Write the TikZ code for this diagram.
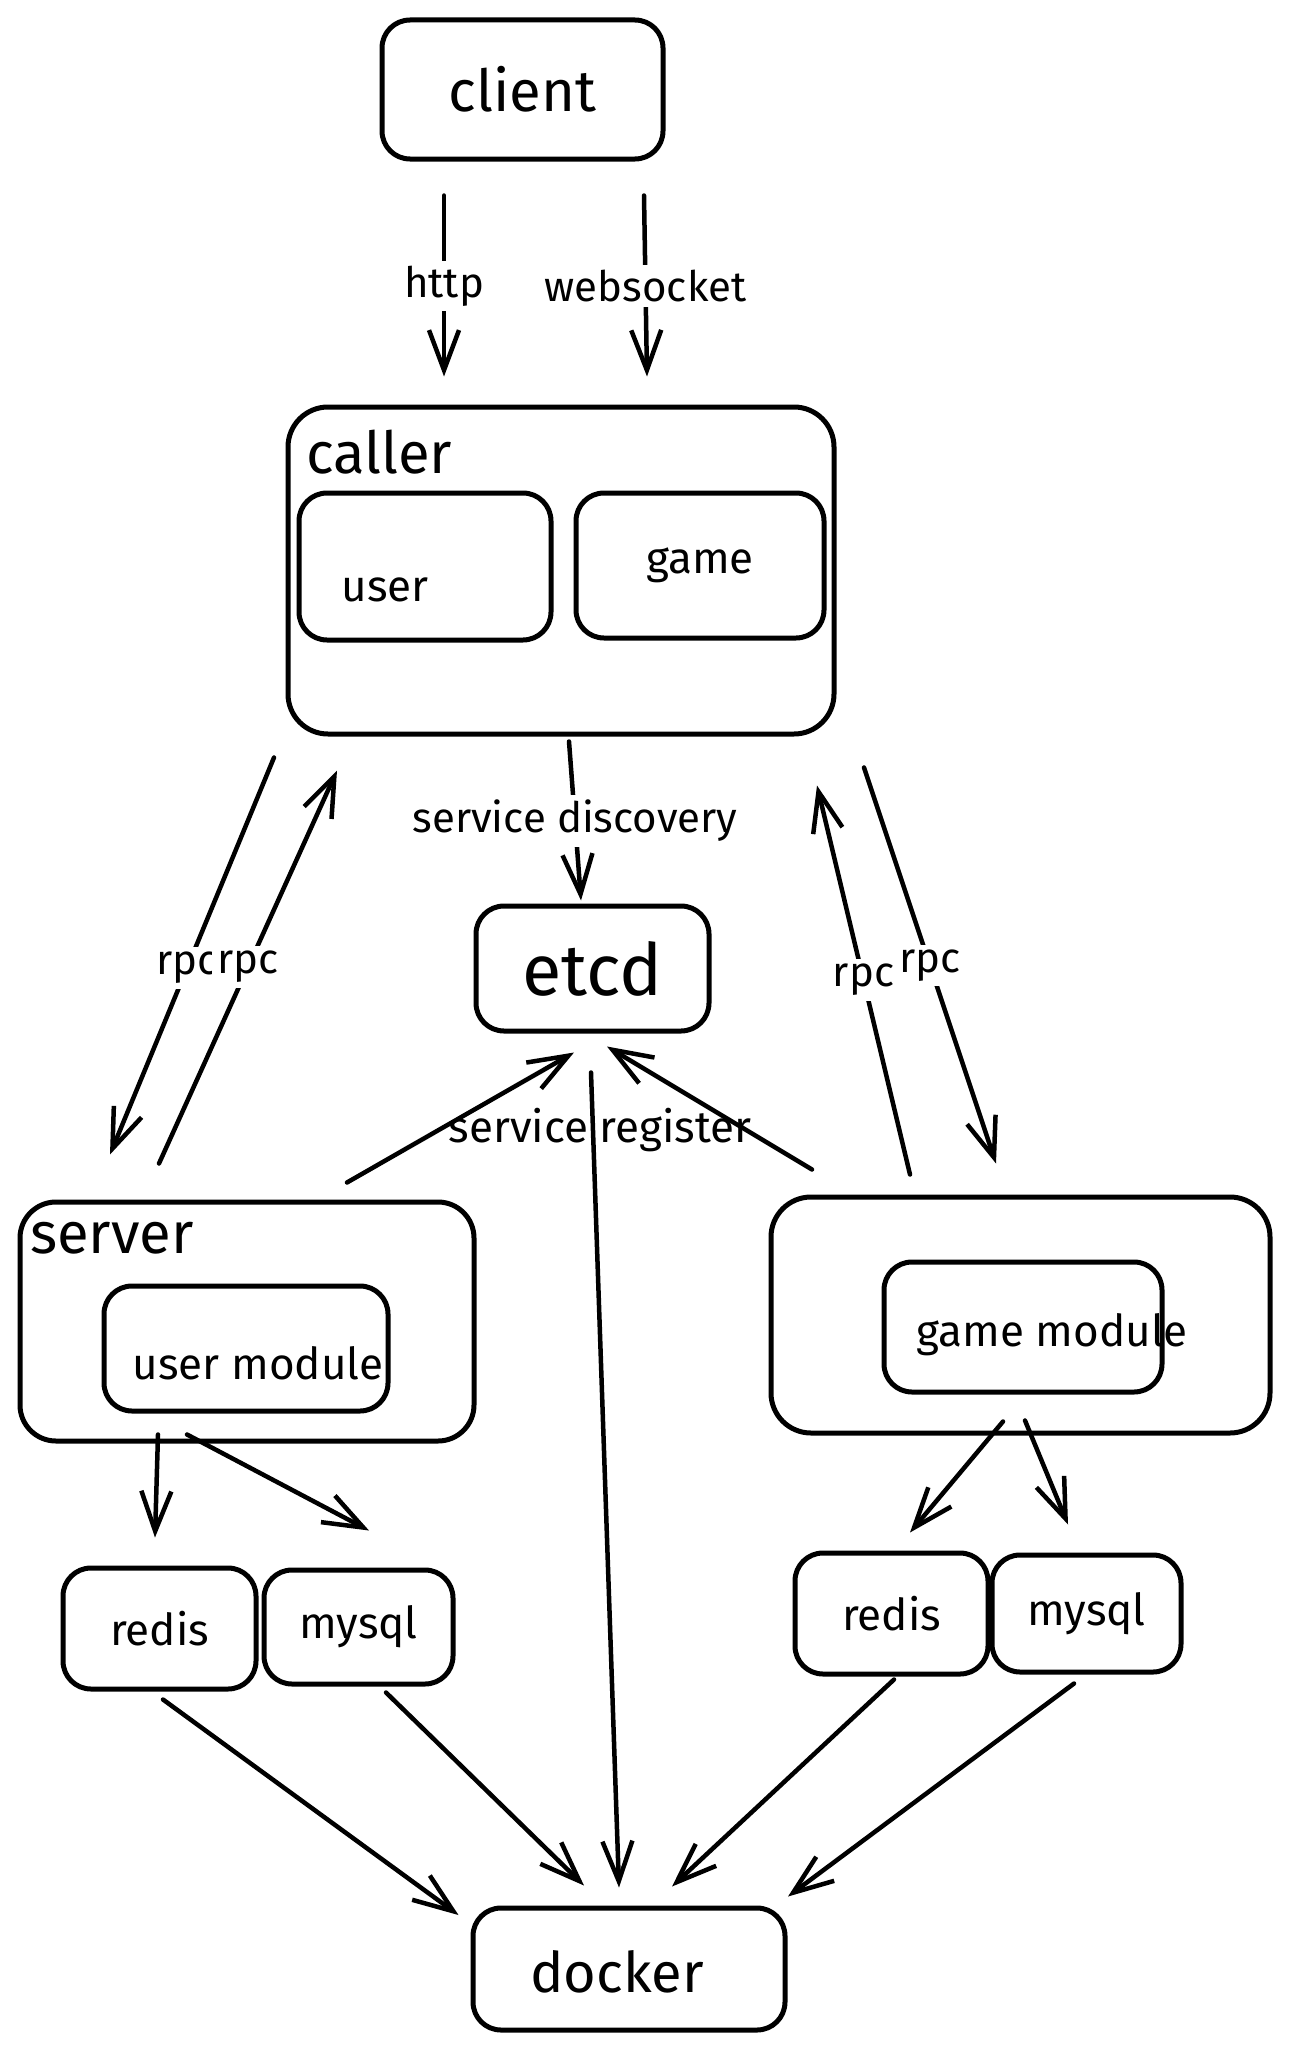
\documentclass[tikz,border=0pt]{standalone}
\usepackage{fontspec}
\setmainfont{Fira Sans}
\usetikzlibrary{arrows.meta,calc}

\begin{document}
\begin{tikzpicture}[x=1pt,y=-1pt,>={Straight Barb[length=40pt,width=30pt]},
  hop/.style={draw,line width=5pt,rounded corners=28pt,inner sep=0pt,font=\fontsize{44}{50}\selectfont},
  big/.style={hop,font=\fontsize{58}{64}\selectfont},
  arr/.style={->,line width=4.5pt,line cap=round,line join=round},
  lbl/.style={fill=white,inner sep=5pt,font=\fontsize{42}{48}\selectfont},
  txt/.style={inner sep=0pt,font=\fontsize{44}{50}\selectfont}]
\useasboundingbox (0,0) rectangle (1291,2047);
% các hộp phía trên
\node[big,minimum width=281pt,minimum height=139pt] (client) at (522.5,89.5) {client};
\node[hop,rounded corners=40pt,minimum width=546pt,minimum height=327pt] (caller) at (561,570.5) {};
\node[anchor=west,inner sep=0pt,font=\fontsize{58}{64}\selectfont] (callerlbl) at (306,452) {caller};
\node[hop,minimum width=252pt,minimum height=147pt] (userc) at (425,566.5) {};
\node[txt] (userlbl) at (385,590) {user};
\node[hop,minimum width=248pt,minimum height=145pt] (gamec) at (700,565.5) {game};
\node[hop,font=\fontsize{72}{78}\selectfont,minimum width=233pt,minimum height=125pt] (etcd) at (592.5,968.5) {etcd};
% server bên trái, game bên phải
\node[hop,rounded corners=36pt,minimum width=454pt,minimum height=239pt] (server) at (247,1321.5) {};
\node[anchor=west,inner sep=0pt,font=\fontsize{58}{64}\selectfont] (serverlbl) at (30,1238) {server};
\node[hop,minimum width=284pt,minimum height=125pt] (usermod) at (246,1348.5) {};
\node[txt] (usermodlbl) at (258,1363) {user module};
\node[hop,rounded corners=40pt,minimum width=499pt,minimum height=236pt] (gamesrv) at (1020.5,1315) {};
\node[hop,minimum width=278pt,minimum height=130pt] (gamemod) at (1023,1327) {};
\node[txt] (gamemodlbl) at (1052,1335) {game module};
% csdl
\node[hop,minimum width=193pt,minimum height=121pt] (redisl) at (159.5,1628.5) {redis};
\node[hop,minimum width=189pt,minimum height=114pt] (mysqll) at (358.5,1627) {mysql};
\node[hop,minimum width=193pt,minimum height=121pt] (redisr) at (891.5,1613.5) {redis};
\node[hop,minimum width=189pt,minimum height=117pt] (mysqlr) at (1086.5,1613.5) {mysql};
\node[hop,minimum width=312pt,minimum height=122pt] (docker) at (629,1969) {};
\node[inner sep=0pt,font=\fontsize{56}{62}\selectfont] (dockerlbl) at (617,1972) {docker};
% mũi tên
\draw[arr] ($(client.south)+(-78.5,34)$) -- node[lbl]{http} ($(caller.north)+(-117,-28)$);
\draw[arr] ($(client.south)+(121.5,34)$) -- node[lbl]{websocket} ($(caller.north)+(86,-28)$);
\draw[arr] ($(caller.south)+(8,5)$) -- node[lbl]{service discovery} ($(etcd.north)+(-11.5,-3)$);
\draw[arr] ($(caller.south)+(-287,21)$) -- node[lbl,pos=.53]{rpc} ($(server.north)+(-137,-45)$);
\draw[arr] ($(server.north)+(-88,-36)$) -- node[lbl]{rpc} ($(caller.south)+(-224,34)$);
\draw[arr] ($(gamesrv.north)+(-110.5,-20)$) -- node[lbl]{rpc} ($(caller.south)+(256,49)$);
\draw[arr] ($(caller.south)+(303,31)$) -- node[lbl]{rpc} ($(gamesrv.north)+(-24.5,-31)$);
\draw[arr] ($(server.north)+(100,-17)$) -- ($(etcd.south)+(-18.5,19)$);
\draw[arr] ($(gamesrv.north)+(-208.5,-25)$) -- ($(etcd.south)+(14.5,13)$);
\node[txt] (reglbl) at (600,1130) {service register};
\draw[arr] ($(etcd.south)+(-1.5,39)$) -- ($(docker.north)+(-10,-18)$);
\draw[arr] ($(server.south)+(-89,-9)$) -- ($(redisl.north)+(-4.5,-28)$);
\draw[arr] ($(server.south)+(-60,-9)$) -- ($(mysqll.north)+(10.5,-37)$);
\draw[arr] ($(gamesrv.south)+(-17.5,-14)$) -- ($(redisr.north)+(18.5,-18)$);
\draw[arr] ($(gamesrv.south)+(4.5,-15)$) -- ($(mysqlr.north)+(-18.5,-28)$);
\draw[arr] ($(redisl.south)+(3.5,8)$) -- ($(docker.west)+(-12,-54)$);
\draw[arr] ($(mysqll.south)+(27.5,6)$) -- ($(docker.north)+(-45,-20)$);
\draw[arr] ($(redisr.south)+(2.5,3)$) -- ($(docker.north)+(43,-19)$);
\draw[arr] ($(mysqlr.south)+(-12.5,9)$) -- ($(docker.north)+(159,-9)$);
\end{tikzpicture}
\end{document}
